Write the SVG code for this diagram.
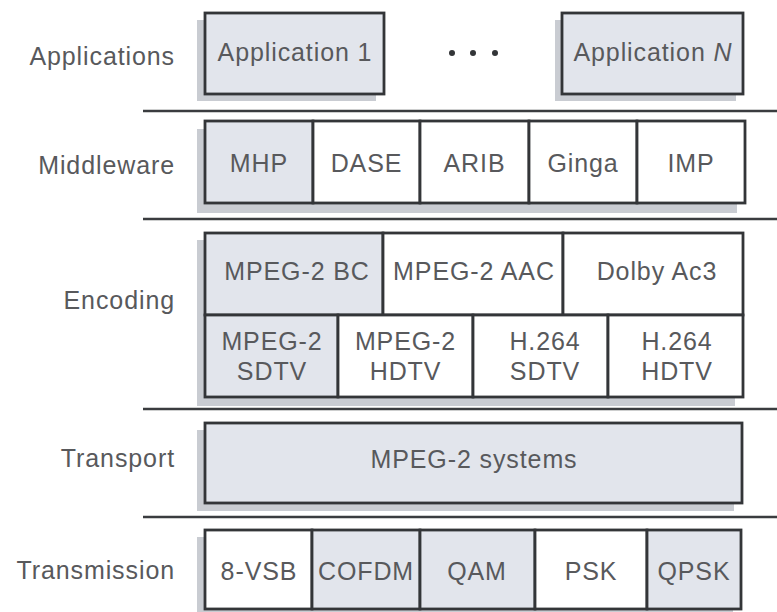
<svg xmlns="http://www.w3.org/2000/svg" width="777" height="612" viewBox="0 0 777 612">
  <defs>
    <style>
      .bg { fill: #ffffff; }
      .shadow { fill: #c9ccd2; }
      .cell { stroke: #333538; stroke-width: 2.8; }
      .shaded { fill: #e2e5ec; }
      .plain { fill: #ffffff; }
      .sep { stroke: #3a3c3f; stroke-width: 2.4; }
      .txt { font-family: "Liberation Sans", Arial, sans-serif; font-size: 25px; fill: #58595c; letter-spacing: 0.9px; }
      .lbl { text-anchor: end; }
      .mid { text-anchor: middle; }
    </style>
  </defs>

  <rect class="bg" x="0" y="0" width="777" height="612"/>

  <!-- layer separators -->
  <g id="separators">
    <line class="sep" x1="143" y1="111" x2="777" y2="111"/>
    <line class="sep" x1="143" y1="219" x2="777" y2="219"/>
    <line class="sep" x1="143" y1="409" x2="777" y2="409"/>
    <line class="sep" x1="143" y1="517" x2="777" y2="517"/>
  </g>

  <!-- layer names -->
  <g id="layer-labels" class="txt lbl">
    <text x="175" y="65">Applications</text>
    <text x="175" y="174">Middleware</text>
    <text x="175" y="309">Encoding</text>
    <text x="175" y="467">Transport</text>
    <text x="175" y="579">Transmission</text>
  </g>

  <!-- Applications -->
  <g id="applications">
    <rect class="shadow" x="197" y="20" width="179" height="81"/>
    <rect class="shadow" x="555" y="20" width="181" height="81"/>
    <g id="app-1">
      <rect class="cell shaded" x="205" y="13" width="179" height="81"/>
      <text class="txt mid" x="295" y="61">Application 1</text>
    </g>
    <g id="app-dots" fill="#333538">
      <circle cx="452" cy="53" r="3"/>
      <circle cx="473" cy="53" r="3"/>
      <circle cx="495" cy="53" r="3"/>
    </g>
    <g id="app-n">
      <rect class="cell shaded" x="562" y="13" width="181" height="81"/>
      <text class="txt mid" x="653" y="61">Application <tspan font-style="italic">N</tspan></text>
    </g>
  </g>

  <!-- Middleware -->
  <g id="middleware">
    <rect class="shadow" x="197" y="129" width="540" height="84"/>
    <g id="mw-mhp"><rect class="cell shaded" x="205" y="121" width="108" height="82"/><text class="txt mid" x="259" y="172">MHP</text></g>
    <g id="mw-dase"><rect class="cell plain" x="313" y="121" width="107" height="82"/><text class="txt mid" x="366.5" y="172">DASE</text></g>
    <g id="mw-arib"><rect class="cell plain" x="420" y="121" width="109" height="82"/><text class="txt mid" x="474.5" y="172">ARIB</text></g>
    <g id="mw-ginga"><rect class="cell plain" x="529" y="121" width="108" height="82"/><text class="txt mid" x="583" y="172">Ginga</text></g>
    <g id="mw-imp"><rect class="cell plain" x="637" y="121" width="108" height="82"/><text class="txt mid" x="691" y="172">IMP</text></g>
  </g>

  <!-- Encoding -->
  <g id="encoding">
    <rect class="shadow" x="197" y="240" width="538" height="166"/>
    <g id="enc-bc"><rect class="cell shaded" x="205" y="233" width="178" height="82"/><text class="txt mid" x="297" y="280">MPEG-2 BC</text></g>
    <g id="enc-aac"><rect class="cell plain" x="383" y="233" width="180" height="82"/><text class="txt mid" x="474" y="280">MPEG-2 AAC</text></g>
    <g id="enc-ac3"><rect class="cell plain" x="563" y="233" width="180" height="82"/><text class="txt mid" x="657" y="280">Dolby Ac3</text></g>
    <g id="enc-mpeg2-sd"><rect class="cell shaded" x="205" y="315" width="133" height="82"/><text class="txt mid" x="272" y="350">MPEG-2</text><text class="txt mid" x="272" y="380">SDTV</text></g>
    <g id="enc-mpeg2-hd"><rect class="cell plain" x="338" y="315" width="135" height="82"/><text class="txt mid" x="405.5" y="350">MPEG-2</text><text class="txt mid" x="405.5" y="380">HDTV</text></g>
    <g id="enc-h264-sd"><rect class="cell plain" x="473" y="315" width="135" height="82"/><text class="txt mid" x="545" y="350">H.264</text><text class="txt mid" x="545" y="380">SDTV</text></g>
    <g id="enc-h264-hd"><rect class="cell plain" x="608" y="315" width="135" height="82"/><text class="txt mid" x="677" y="350">H.264</text><text class="txt mid" x="677" y="380">HDTV</text></g>
  </g>

  <!-- Transport -->
  <g id="transport">
    <rect class="shadow" x="197" y="430" width="537" height="81"/>
    <g id="tr-systems"><rect class="cell shaded" x="205" y="423" width="537" height="80"/><text class="txt mid" x="474" y="468">MPEG-2 systems</text></g>
  </g>

  <!-- Transmission -->
  <g id="transmission">
    <rect class="shadow" x="197" y="537" width="536" height="80"/>
    <g id="tx-8vsb"><rect class="cell plain" x="205" y="530" width="107" height="79"/><text class="txt mid" x="259" y="580">8-VSB</text></g>
    <g id="tx-cofdm"><rect class="cell shaded" x="312" y="530" width="108" height="79"/><text class="txt mid" x="366" y="580">COFDM</text></g>
    <g id="tx-qam"><rect class="cell shaded" x="420" y="530" width="115" height="79"/><text class="txt mid" x="477" y="580">QAM</text></g>
    <g id="tx-psk"><rect class="cell plain" x="535" y="530" width="112" height="79"/><text class="txt mid" x="591" y="580">PSK</text></g>
    <g id="tx-qpsk"><rect class="cell shaded" x="647" y="530" width="94" height="79"/><text class="txt mid" x="694" y="580">QPSK</text></g>
  </g>
</svg>
